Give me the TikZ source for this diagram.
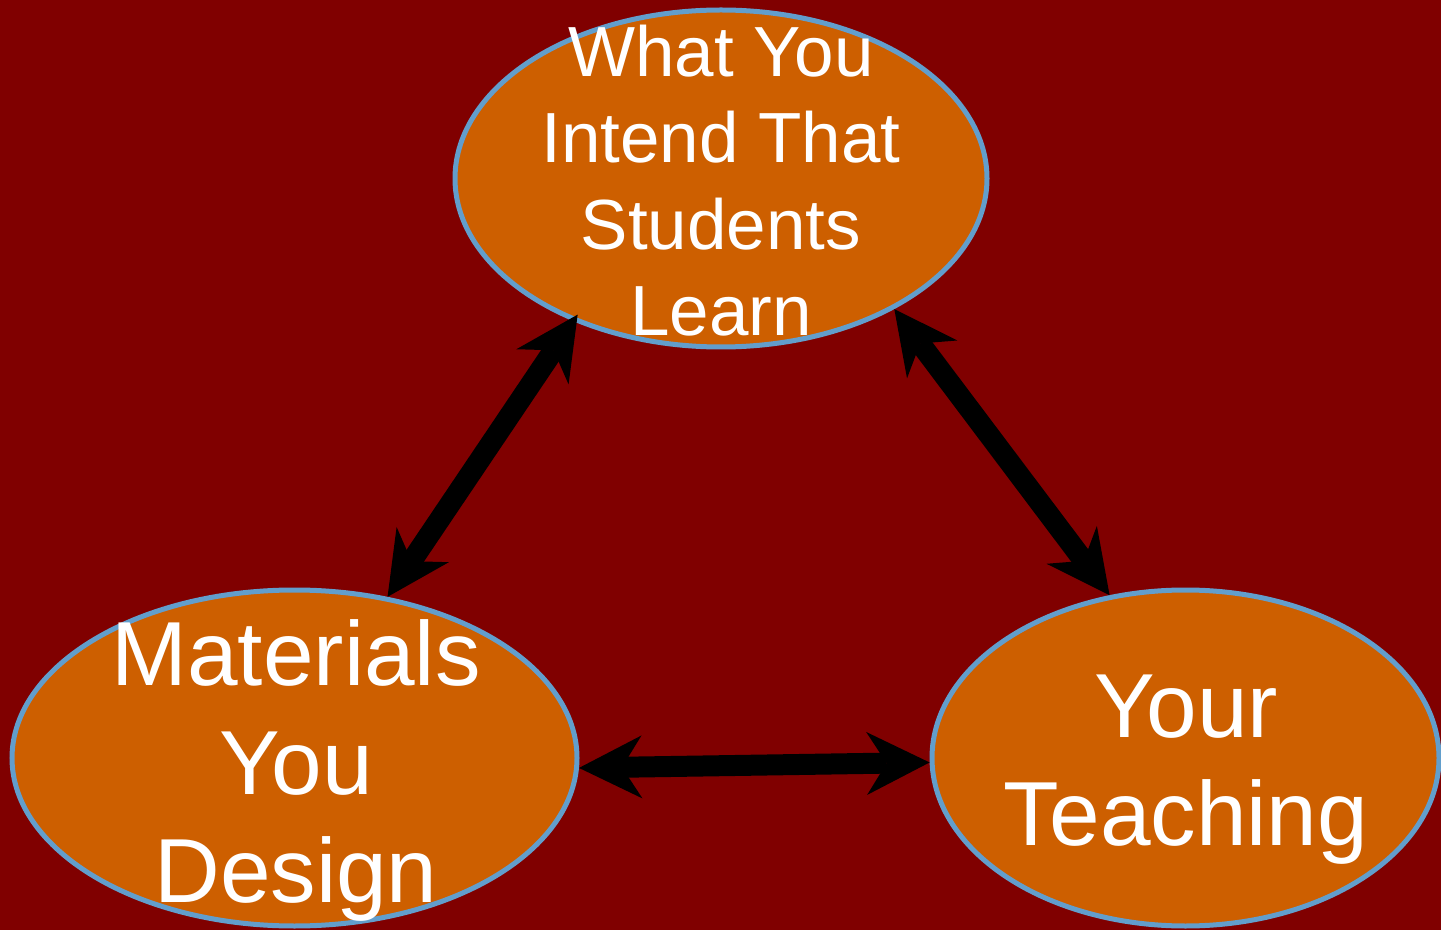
\documentclass[tikz,border=0pt]{standalone}
\usepackage{fontspec}
\setmainfont{Liberation Sans}
\usetikzlibrary{shapes.geometric,arrows.meta}
\definecolor{bgred}{RGB}{128,0,0}
\definecolor{ovalfill}{RGB}{205,95,0}
\definecolor{ovalline}{RGB}{98,158,204}
\begin{document}
\begin{tikzpicture}[x=0.5pt,y=-0.5pt,
  oval/.style={ellipse, draw=ovalline, fill=ovalfill, line width=2.5pt, inner sep=0pt},
  lbl/.style={text=white, align=center, inner sep=0pt},
  smalltxt/.style={font=\fontsize{35.5}{43.2}\selectfont},
  bigtxt/.style={font=\fontsize{45.5}{54.3}\selectfont},
  dblarrow/.style={line width=10.5pt, draw=black,
    arrows={Stealth[length=31.5pt,width=31.5pt,inset=10pt,line width=0pt]-Stealth[length=31.5pt,width=31.5pt,inset=10pt,line width=0pt]}}]
\fill[bgred] (0,0) rectangle (1441,930);
\useasboundingbox (0,0) rectangle (1441,930);
\node[oval, minimum width=266pt, minimum height=168.5pt] (top) at (721,178.5) {};
\node[oval, minimum width=282.5pt, minimum height=168pt] (bl) at (294.5,758) {};
\node[oval, minimum width=253.5pt, minimum height=168pt] (br) at (1185.5,758) {};
\node[lbl, smalltxt] (toptext) at (721,180.5) {What You\\Intend That\\Students\\Learn};
\node[lbl, bigtxt] (bltext) at (296,770.5) {Materials\\You\\Design};
\node[lbl, bigtxt] (brtext) at (1186,769.5) {Your\\Teaching};
\draw[dblarrow, shorten <=-4pt] (top.-136) -- (bl.60);
\draw[dblarrow] (top.-37) -- (br.115);
\draw[dblarrow] (bl.-2) -- (br.181);
\end{tikzpicture}
\end{document}
